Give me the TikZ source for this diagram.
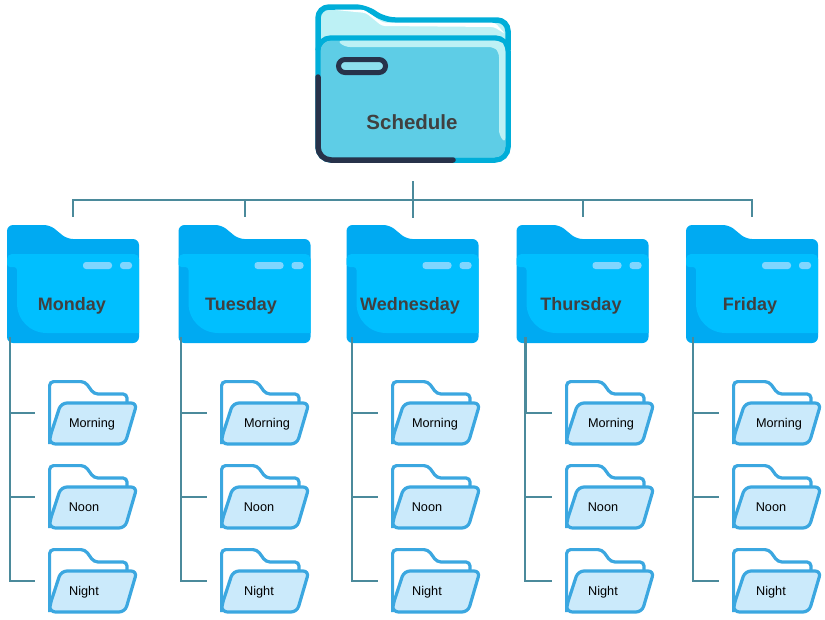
\documentclass[tikz,border=0pt]{standalone}
\usepackage{fontspec}
\setmainfont{Liberation Sans}
\definecolor{linkteal}{HTML}{4B8A9B}
\definecolor{labelgrey}{HTML}{404040}
\definecolor{dayback}{HTML}{00AAF2}
\definecolor{dayfront}{HTML}{00BFFF}
\definecolor{daypill}{HTML}{80D6FF}
\definecolor{slotline}{HTML}{3BA7E0}
\definecolor{slotfill}{HTML}{CBEAFB}
\definecolor{rootline}{HTML}{00AED9}
\definecolor{rootfill}{HTML}{5ECDE6}
\definecolor{rootlight}{HTML}{BDF1F5}
\definecolor{rootdark}{HTML}{27324A}
\tikzset{
	link/.style={draw=linkteal, line width=2pt},
	box/.style={inner sep=0pt, outer sep=0pt},
	rootlabel/.style={box, anchor=base, text=labelgrey, font=\fontsize{20.5}{24}\selectfont\bfseries},
	daylabel/.style={box, anchor=base, text=labelgrey, font=\fontsize{18}{22}\selectfont\bfseries},
	slotlabel/.style={box, anchor=base, text=black, font=\fontsize{12.7}{15}\selectfont},
}
% x of the folder, name, text, x of the text
\newcommand{\dayfolder}[4]{
	\begin{scope}[shift={(#1, 225)}]
		\node[box, minimum width=132pt, minimum height=118pt] (#2) at (66, 59) {};
		\fill[dayback, rounded corners=6pt] (0, 0) -- (43, 0) -- (60, 14) -- (132, 14) -- (132, 118) -- (0, 118) -- cycle;
		\fill[dayfront] (0, 42) [rounded corners=5pt] -- (0, 29) -- (132, 29) [sharp corners] -- (132, 108) -- (40, 108) .. controls (23, 108) and (10, 95) .. (10, 78) [rounded corners=3pt] -- (10, 42) -- cycle;
		\fill[daypill, rounded corners=3pt] (76, 37) rectangle (105, 44);
		\fill[daypill, rounded corners=3pt] (113, 37) rectangle (125, 44);
	\end{scope}
	\node[daylabel] (#2 label) at (#4, 310) {#3};
}
% x of the folder, y of the folder, name, text, x of the text
\newcommand{\slotfolder}[5]{
	\begin{scope}[shift={(#1, #2)}]
		\node[box, minimum width=90pt, minimum height=65.4pt] (#3) at (45, 32.7) {};
		\draw[slotline, line width=3.2pt, fill=white, rounded corners=4pt] (1.6, 62) -- (1.6, 1.6) -- (37, 1.6) -- (46, 14) -- (79, 14) -- (79, 26);
		\draw[slotline, line width=3.2pt, fill=slotfill, rounded corners=6pt] (13, 23) -- (89, 23) -- (77, 64) -- (1.6, 64) -- (1.6, 58) -- cycle;
	\end{scope}
	\node[slotlabel] (#3 label) at (#5, #2+47) {#4};
}
\begin{document}
\begin{tikzpicture}[x=1pt, y=-1pt]
	\useasboundingbox (0, 0) rectangle (825, 619);

	%%%%% root folder %%%%%
	\node[box, minimum width=196pt, minimum height=159pt] (schedule) at (412.5, 83.5) {};
	\draw[rootline, line width=5.5pt, fill=rootlight, rounded corners=11pt] (318, 50) -- (318, 7) -- (366, 7) -- (384, 20) -- (508, 20) -- (508, 50);
	\fill[white, rounded corners=3pt] (333, 9.7) -- (364, 9.7) -- (383, 22.7) -- (495, 22.7) -- (505.3, 34) -- (494, 27) -- (382, 26) -- (366, 13) -- cycle;
	\draw[rootline, line width=5.5pt, fill=rootlight, rounded corners=13pt] (318, 160) -- (318, 38) -- (508, 38) -- (508, 160) -- cycle;
	\fill[rootfill, rounded corners=10pt] (320.7, 40.7) -- (505.3, 40.7) -- (505.3, 157.3) -- (320.7, 157.3) -- cycle;
	\fill[rootlight, rounded corners=5pt] (337, 40.7) -- (500, 40.7) -- (505.3, 46) -- (505.3, 143) -- (499, 135) -- (499, 52) -- (494, 47) -- (345, 47) -- cycle;
	\draw[rootdark, line width=5.5pt, line cap=round, rounded corners=13pt] (318, 77) -- (318, 160) -- (453, 160);
	\draw[rootdark, line width=5pt, fill=rootlight!50!rootfill, rounded corners=6.5pt] (338.5, 59.5) rectangle (385.5, 72.5);
	\node[rootlabel] (schedule label) at (412, 129.5) {Schedule};

	%%%%% day folders %%%%%
	\dayfolder{7}{monday}{Monday}{72}
	\dayfolder{178.5}{tuesday}{Tuesday}{241}
	\dayfolder{346.5}{wednesday}{Wednesday}{410}
	\dayfolder{516.5}{thursday}{Thursday}{581}
	\dayfolder{686}{friday}{Friday}{750}

	%%%%% time folders %%%%%
	\slotfolder{48}{380}{monday morning}{Morning}{92}
	\slotfolder{48}{464}{monday noon}{Noon}{84}
	\slotfolder{48}{548}{monday night}{Night}{84}
	\slotfolder{220}{380}{tuesday morning}{Morning}{267}
	\slotfolder{220}{464}{tuesday noon}{Noon}{259}
	\slotfolder{220}{548}{tuesday night}{Night}{259}
	\slotfolder{391}{380}{wednesday morning}{Morning}{435}
	\slotfolder{391}{464}{wednesday noon}{Noon}{427}
	\slotfolder{391}{548}{wednesday night}{Night}{427}
	\slotfolder{565}{380}{thursday morning}{Morning}{611}
	\slotfolder{565}{464}{thursday noon}{Noon}{603}
	\slotfolder{565}{548}{thursday night}{Night}{603}
	\slotfolder{732}{380}{friday morning}{Morning}{779}
	\slotfolder{732}{464}{friday noon}{Noon}{771}
	\slotfolder{732}{548}{friday night}{Night}{771}

	%%%%% connectors %%%%%
	\coordinate (stem) at (412.5, 218);
	\coordinate (bus) at (412.5, 200);
	\draw[link, shorten <=18pt] (schedule.south) -- (stem);
	\foreach \day/\trunk in {monday/10, tuesday/181, wednesday/352, thursday/525.5, friday/693} {
		\coordinate (\day\space trunk) at (\trunk, 337);
		\draw[link, shorten >=8pt] (bus) -| (\day.north);
		\draw[link, shorten >=13pt] (\day\space trunk) ++(0.4, 0) |- (\day\space morning.west);
		\draw[link, shorten >=13pt] (\day\space trunk) ++(-0.3, 0) |- (\day\space noon.west);
		\draw[link, shorten >=13pt] (\day\space trunk) ++(-0.3, 0) |- (\day\space night.west);
	}
\end{tikzpicture}
\end{document}
